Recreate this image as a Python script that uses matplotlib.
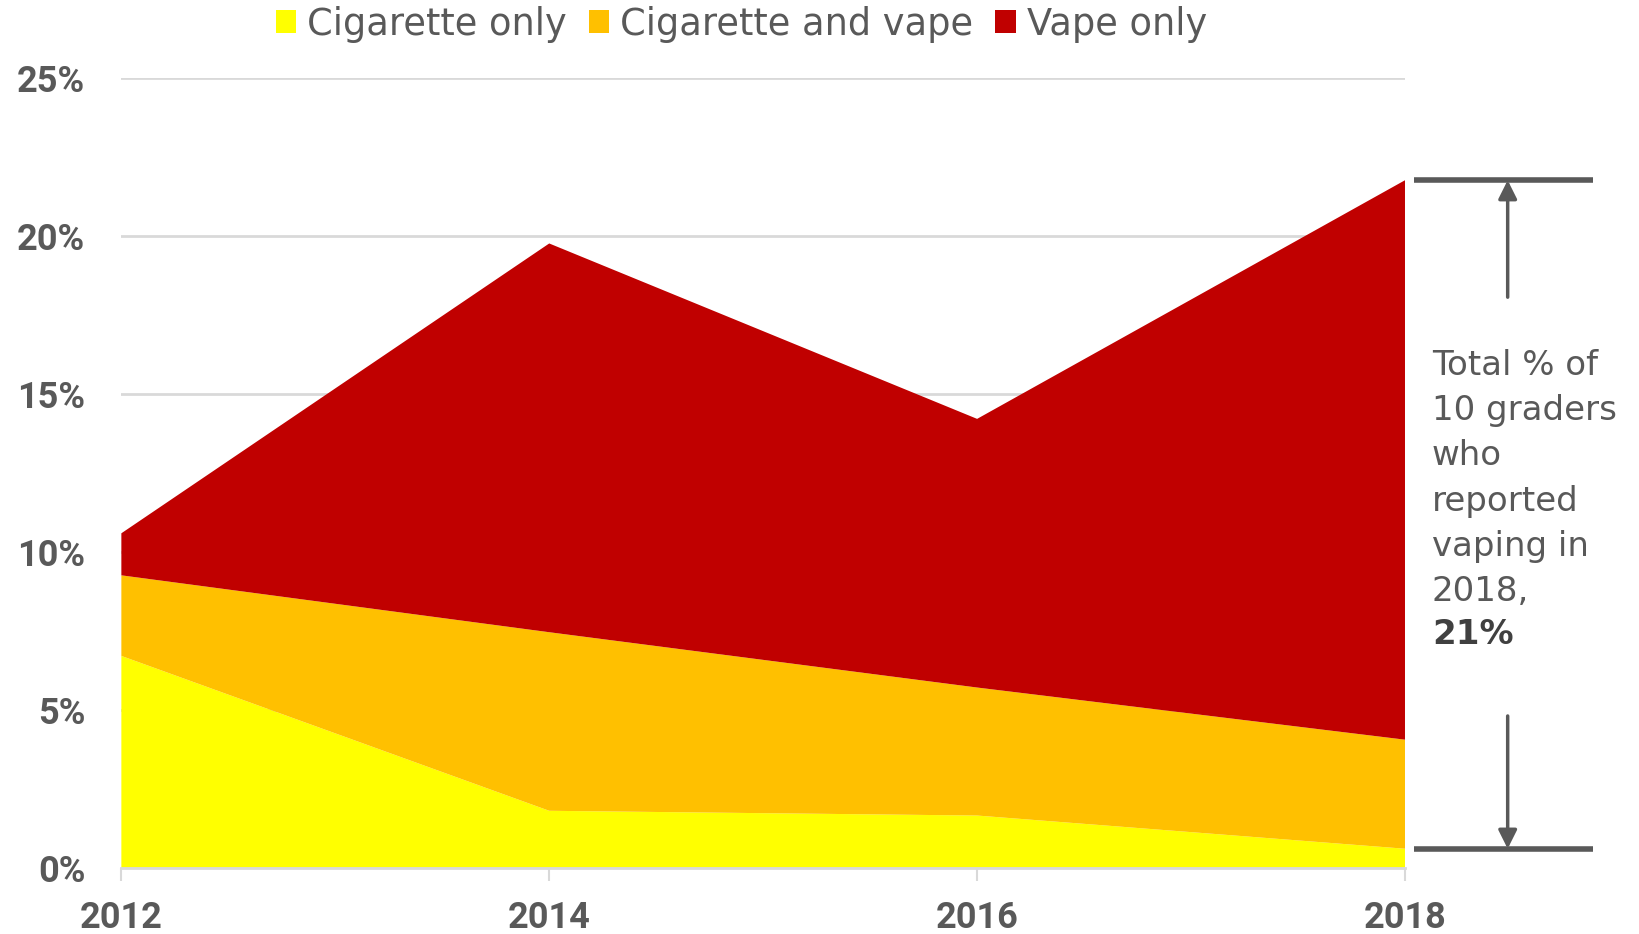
import matplotlib
matplotlib.use("Agg")
import matplotlib.pyplot as plt
from matplotlib.patches import Patch

# data (% of 10th graders)
years = [2012, 2014, 2016, 2018]
cig_only = [6.7, 1.8, 1.65, 0.6]
cig_and_vape = [2.55, 5.65, 4.05, 3.45]
vape_only = [1.33, 12.3, 8.5, 17.7]
series_names = ["Cigarette only", "Cigarette and vape", "Vape only"]
colors = ["#FFFF00", "#FFC000", "#C00000"]
yticks = [0, 5, 10, 15, 20, 25]

grey = "#595959"
light = "#D9D9D9"

fig = plt.figure(figsize=(16.4, 9.34), dpi=100)
ax = fig.add_axes([0.074, 0.071, 0.7827, 0.846])

ax.stackplot(years, cig_only, cig_and_vape, vape_only, colors=colors, linewidth=0, zorder=2)

ax.set_xlim(years[0], years[-1])
ax.set_ylim(0, 25)
ax.set_yticks(yticks)
ax.set_yticklabels([f"{v}%" for v in yticks])
ax.set_xticks(years)
ax.set_xticklabels([str(y) for y in years])
ax.grid(axis="y", color=light, linewidth=2, zorder=1)
ax.set_axisbelow(True)
for s in ["top", "right", "left"]:
    ax.spines[s].set_visible(False)
ax.spines["bottom"].set_color(light)
ax.spines["bottom"].set_linewidth(2)
ax.tick_params(axis="y", length=0, pad=26)
ax.tick_params(axis="x", length=9, width=1.5, color=light, pad=14)
for lab in ax.get_xticklabels() + ax.get_yticklabels():
    lab.set_fontfamily("Roboto")
    lab.set_fontweight("bold")
    lab.set_fontsize(26)
    lab.set_color(grey)

# legend
handles = [Patch(facecolor=c, edgecolor="none") for c in colors]
leg = fig.legend(handles, series_names, loc="center", bbox_to_anchor=(0.452, 0.974),
                 ncol=3, frameon=False, handlelength=0.55, handleheight=0.6,
                 handletextpad=0.3, columnspacing=0.6, prop={"family": "DejaVu Sans", "size": 26.5})
for t in leg.get_texts():
    t.set_color(grey)

# bracket showing 2018 total
total_2018 = cig_only[-1] + cig_and_vape[-1] + vape_only[-1]
base_2018 = cig_only[-1]
x0, x1, xa = years[-1] + 0.04, years[-1] + 0.88, years[-1] + 0.48
for yv in [total_2018, base_2018]:
    ax.plot([x0, x1], [yv, yv], color=grey, linewidth=4, clip_on=False, solid_capstyle="butt")
ax.annotate("", xy=(xa, total_2018), xytext=(xa, total_2018 - 3.7),
            arrowprops=dict(arrowstyle="-|>", color=grey, lw=2.5, mutation_scale=28,
                            shrinkA=0, shrinkB=0), annotation_clip=False)
ax.annotate("", xy=(xa, base_2018), xytext=(xa, base_2018 + 4.2),
            arrowprops=dict(arrowstyle="-|>", color=grey, lw=2.5, mutation_scale=28,
                            shrinkA=0, shrinkB=0), annotation_clip=False)

fig.text(1432 / 1640, 1 - 349 / 934, "Total % of\n10 graders\nwho\nreported\nvaping in\n2018,",
         ha="left", va="top", fontsize=24.5, family="DejaVu Sans", color=grey, linespacing=1.47)
fig.text(1432 / 1640, 1 - 634 / 934, "21%", ha="left", va="center", fontsize=24.5,
         family="DejaVu Sans", fontweight="bold", color="#404040")

fig.savefig("out.png", dpi=100)
